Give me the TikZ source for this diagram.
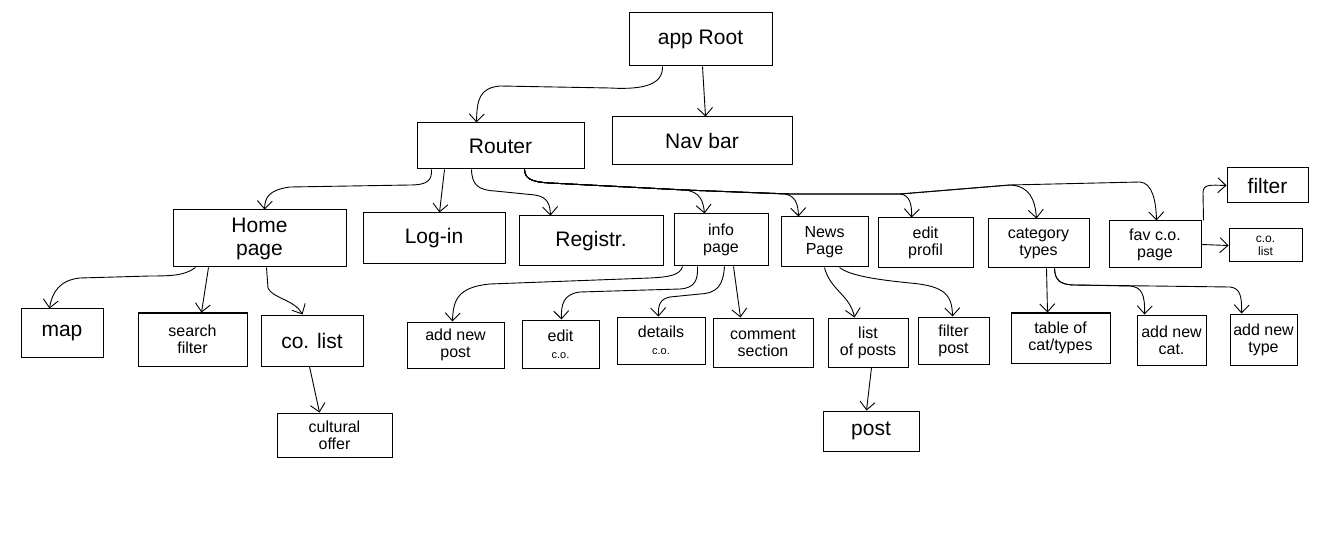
\documentclass[tikz,border=0pt]{standalone}
\usepackage{fontspec}
\setmainfont{Liberation Sans}
\usetikzlibrary{arrows.meta}
\tikzset{
  box/.style={draw=black, line width=1pt, fill=white, inner sep=2pt, align=center},
  tL/.style={font=\fontsize{21}{23}\selectfont},
  tM/.style={font=\fontsize{16}{17}\selectfont},
  tS/.style={font=\fontsize{12}{13}\selectfont},
  arr/.style={line width=0.9pt, -{Straight Barb[length=8pt,width=15pt]}}
}
\begin{document}
\begin{tikzpicture}[x=1pt,y=-1pt]
\useasboundingbox[fill=white] (0,0) rectangle (1333,545);
% boxes
\node[box,tL,minimum width=143pt,minimum height=53pt] (root) at (700.5,39.5) {app Root};
\node[box,tL,minimum width=167pt,minimum height=46pt] (router) at (500.5,146) {Router};
\node[box,tL,minimum width=180pt,minimum height=48pt] (navbar) at (702,141) {Nav bar};
\node[box,tL,minimum width=173pt,minimum height=57pt] (home) at (259.5,238.5) {Home\\page};
\node[box,tL,minimum width=142pt,minimum height=51pt] (login) at (434,238.5) {Log-in};
\node[box,tL,minimum width=144pt,minimum height=50pt] (reg) at (591,241) {Registr.};
\node[box,tM,minimum width=94pt,minimum height=52pt] (info) at (721,240) {info\\page};
\node[box,tM,minimum width=87pt,minimum height=50pt] (news) at (824.5,242) {News\\Page};
\node[box,tM,minimum width=95pt,minimum height=50pt] (editp) at (925.5,243) {edit\\profil};
\node[box,tM,minimum width=101pt,minimum height=49pt] (cat) at (1038.5,243.5) {category\\types};
\node[box,tM,minimum width=92pt,minimum height=47pt] (fav) at (1155,244.5) {fav c.o.\\page};
\node[box,tL,minimum width=81pt,minimum height=35pt] (filter) at (1267.5,185.5) {filter};
\node[box,tS,minimum width=73pt,minimum height=33pt] (colisttwo) at (1265.5,245.5) {c.o.\\list};
\node[box,tL,minimum width=82pt,minimum height=48pt] (map) at (62,333) {map};
\node[box,tM,minimum width=109pt,minimum height=53pt] (search) at (192.5,339.5) {search\\filter};
\node[box,tL,minimum width=102pt,minimum height=51pt] (colist) at (312,340.5) {co. list};
\node[box,tM,minimum width=115pt,minimum height=44pt] (cult) at (334.5,435) {cultural\\offer};
\node[box,tM,minimum width=97pt,minimum height=46pt] (addpost) at (455.5,345) {add new\\post};
\node[box,tM,minimum width=77pt,minimum height=48pt] (editco) at (560.5,344) {edit\\{\fontsize{11}{12}\selectfont c.o.}};
\node[box,tM,minimum width=88pt,minimum height=47pt] (details) at (661,340.5) {details\\{\fontsize{11}{12}\selectfont c.o.}};
\node[box,tM,minimum width=100pt,minimum height=49pt] (comment) at (763,342.5) {comment\\section};
\node[box,tM,minimum width=80pt,minimum height=49pt] (listp) at (868,342.5) {list\\of posts};
\node[box,tM,minimum width=71pt,minimum height=47pt] (filterp) at (953.5,340.5) {filter\\post};
\node[box,tM,minimum width=99pt,minimum height=50pt] (table) at (1060.5,338) {table of\\cat/types};
\node[box,tM,minimum width=69pt,minimum height=50pt] (addcat) at (1171.5,340) {add new\\cat.};
\node[box,tM,minimum width=67pt,minimum height=51pt] (addtype) at (1263.5,339.5) {add new\\type};
\node[box,tL,minimum width=96pt,minimum height=40pt] (post) at (871,431) {post};
% connectors
\draw[arr] ([xshift=34pt]root.south west) .. controls (663,84) and (645,90) .. (610,88) -- (500,86) .. controls (479,88) and (477,100) .. ([xshift=60pt]router.north west);
\draw[arr] ([xshift=74pt]root.south west) -- ([xshift=94pt]navbar.north west);
\draw[arr] ([xshift=15pt]router.south west) .. controls (432,180) and (428,185) .. (410,185) -- (290,187) .. controls (268,190) and (265,198) .. ([xshift=92pt]home.north west);
\draw[arr] ([xshift=28pt]router.south west) -- ([xshift=77pt]login.north west);
\draw[arr] ([xshift=55pt]router.south west) .. controls (472,185) and (478,190) .. (495,191) -- (535,195) .. controls (548,197) and (550,205) .. ([xshift=32pt]reg.north west);
\draw[arr] ([xshift=108pt]router.south west) .. controls (525,178) and (530,182) .. (550,183) -- (685,190) .. controls (700,192) and (703,200) .. ([xshift=31pt]info.north west);
\draw[arr] ([xshift=108pt]router.south west) .. controls (525,178) and (530,182) .. (550,183) -- (685,190) -- (785,194) .. controls (795,196) and (798,203) .. ([xshift=18pt]news.north west);
\draw[arr] ([xshift=108pt]router.south west) .. controls (525,178) and (530,182) .. (550,183) -- (685,190) -- (790,194) -- (900,194) .. controls (910,195) and (912,205) .. ([xshift=34pt]editp.north west);
\draw[arr] ([xshift=108pt]router.south west) .. controls (525,178) and (530,182) .. (550,183) -- (685,190) -- (790,194) -- (900,194) -- (1010,185) .. controls (1030,186) and (1035,200) .. ([xshift=49pt]cat.north west);
\draw[arr] ([xshift=108pt]router.south west) .. controls (525,178) and (530,182) .. (550,183) -- (685,190) -- (790,194) -- (900,194) -- (1010,185) -- (1140,182) .. controls (1152,183) and (1156,200) .. ([xshift=48pt]fav.north west);
\draw[arr] ([xshift=2pt]fav.north east) -- (1203,193) .. controls (1203,184) and (1210,185) .. (filter.west);
\draw[arr] (fav.east) -- (colisttwo.west);
\draw[arr] ([xshift=23pt]home.south west) .. controls (185,275) and (175,276) .. (150,276) -- (80,278) .. controls (60,280) and (52,292) .. ([xshift=29pt]map.north west);
\draw[arr] ([xshift=36pt]home.south west) -- ([xshift=64pt]search.north west);
\draw[arr] ([xshift=94pt]home.south west) -- (268,288) .. controls (272,298) and (295,300) .. ([xshift=42pt]colist.north west);
\draw[arr] ([xshift=49pt]colist.south west) -- ([xshift=43pt]cult.north west);
\draw[arr] ([xshift=9pt]info.south west) .. controls (680,275) and (670,277) .. (650,278) -- (490,284) .. controls (458,287) and (453,300) .. ([xshift=46pt]addpost.north west);
\draw[arr] ([xshift=24pt]info.south west) .. controls (698,280) and (695,288) .. (680,289) -- (580,292) .. controls (563,294) and (561,305) .. ([xshift=40pt]editco.north west);
\draw[arr] ([xshift=51pt]info.south west) .. controls (723,285) and (718,293) .. (700,294) -- (670,297) .. controls (660,299) and (658,305) .. ([xshift=42pt]details.north west);
\draw[arr] ([xshift=60pt]info.south west) -- ([xshift=28pt]comment.north west);
\draw[arr] ([xshift=44pt]news.south west) .. controls (830,290) and (850,295) .. ([xshift=27pt]listp.north west);
\draw[arr] ([xshift=59pt]news.south west) .. controls (850,276) and (880,280) .. (910,283) .. controls (945,286) and (952,295) .. ([xshift=35pt]filterp.north west);
\draw[arr] ([xshift=59pt]cat.south west) -- ([xshift=37pt]table.north west);
\draw[arr] ([xshift=67pt]cat.south west) .. controls (1055,280) and (1060,285) .. (1075,285) -- (1130,286) .. controls (1142,287) and (1145,295) .. ([xshift=8pt]addcat.north west);
\draw[arr] ([xshift=67pt]cat.south west) .. controls (1055,280) and (1060,285) .. (1075,285) -- (1230,287) .. controls (1240,288) and (1242,296) .. ([xshift=12pt]addtype.north west);
\draw[arr] ([xshift=44pt]listp.south west) -- ([xshift=44pt]post.north west);
\end{tikzpicture}
\end{document}
